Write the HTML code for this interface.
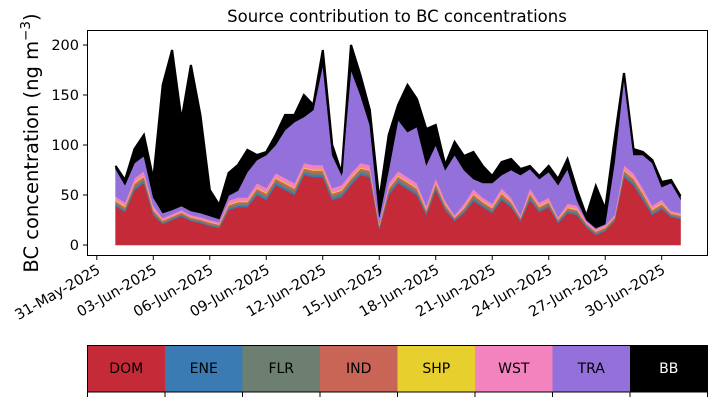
<!DOCTYPE html>
<html><head><meta charset="utf-8"><style>
body{margin:0;background:#fff}
svg{display:block;font-family:"DejaVu Sans","Liberation Sans",sans-serif}
</style></head><body>
<svg id="chart" width="717" height="402" viewBox="0 0 717 402">
<text x="397" y="22" text-anchor="middle" font-size="16.5">Source contribution to BC concentrations</text>
<g id="plot"></g>
<rect x="87.5" y="30.5" width="620" height="225" fill="none" stroke="#000" stroke-width="1"/>
<g id="yaxis"></g>
<g id="xaxis"></g>
<text transform="translate(38,143) rotate(-90)" text-anchor="middle" font-size="19.5">BC concentration (ng m<tspan dy="-8" font-size="13.5">−3</tspan><tspan dy="8">)</tspan></text>
<g id="legend"></g>
</svg>
<script>
const dom=[39,33,55,62,30,21,25,29,24,22,19,17,35,38,38,50,45,60,55,50,70,68,68,45,48,60,70,68,16,50,62,56,50,30,55,35,24,32,44,38,32,45,38,24,45,33,38,22,32,30,18,10,14,24,68,60,45,30,36,28,26];
const tra=[27.5,17.5,15,15,8,5,4,4,4,4,4,3,5,7,25.5,23,33,28,48,61,46,55,100,33,10,103,68,40,6,13,51,45,56,40.5,33,30.5,60,33.5,10,14.5,20.5,13,27.5,40,19,23.5,25.5,32,34.5,5.5,1,1,1,53,88,18,33,42.5,12.5,28,14];
const bb=[3,5,14,21,18.5,128,160,86,146,98,26,14,22.5,25.5,22,5,3,10,15,7,22,5,15,10,2,25,20,15,17,35,15,47,28,36,20,5,13,14,27,17,7,13,11,6,3,3,6,6,10,10,4,42,15,23,4,6,3,3,5,3,3];
const yTicks=[0,50,100,150,200];
const xTickLabels=["31-May-2025","03-Jun-2025","06-Jun-2025","09-Jun-2025","12-Jun-2025","15-Jun-2025","18-Jun-2025","21-Jun-2025","24-Jun-2025","27-Jun-2025","30-Jun-2025"];
const xTickDays=[0,3,6,9,12,15,18,21,24,27,30];
const legendNames=["DOM","ENE","FLR","IND","SHP","WST","TRA","BB"];
const colors=["#c42a38","#3a7bb3","#6d7f70","#c96556","#e7d02e","#f283bf","#9470da","#000000"];
const ene=dom.map(d=>d>=40?2:d>=30?1.5:1);
const flr=dom.map(d=>d>=40?2:d>=30?1.5:1);
const ind=dom.map(d=>d>=40?2.5:d>=30?2:1.5);
const shp=dom.map(d=>d>=40?1:d>=30?1:0.5);
const wst=dom.map(d=>d>=40?4.5:d>=30?3.5:2);

const NS="http://www.w3.org/2000/svg";
function xDay(d){return 96.8+d*18.83;}
function xIdx(i){return xDay(1+i*0.5);}
function yVal(v){return 245-v*1.0;}
const series=[dom,ene,flr,ind,shp,wst,tra,bb];
const plot=document.getElementById('plot');
let base=dom.map(()=>0);
series.forEach((s,k)=>{
  const top=s.map((v,i)=>base[i]+v);
  let d="M"+s.map((v,i)=>xIdx(i).toFixed(1)+","+yVal(top[i]).toFixed(1)).join("L");
  for(let i=s.length-1;i>=0;i--) d+="L"+xIdx(i).toFixed(1)+","+yVal(base[i]).toFixed(1);
  d+="Z";
  const p=document.createElementNS(NS,'path');
  p.setAttribute('d',d);p.setAttribute('fill',colors[k]);
  p.setAttribute('stroke',colors[k]);p.setAttribute('stroke-width','0.6');
  
  
  plot.appendChild(p);
  base=top;
});
const tl=document.createElementNS(NS,'polyline');
tl.setAttribute('points',base.map((v,i)=>xIdx(i).toFixed(1)+","+yVal(v).toFixed(1)).join(" "));
tl.setAttribute('fill','none');tl.setAttribute('stroke','#000');tl.setAttribute('stroke-width','2.2');


plot.appendChild(tl);

const ya=document.getElementById('yaxis');
yTicks.forEach(v=>{
  const y=yVal(v);
  const l=document.createElementNS(NS,'line');
  l.setAttribute('x1',83);l.setAttribute('x2',87.5);l.setAttribute('y1',y);l.setAttribute('y2',y);l.setAttribute('stroke','#000');
  
  
  ya.appendChild(l);
  const t=document.createElementNS(NS,'text');
  t.setAttribute('x',79);t.setAttribute('y',y+5);t.setAttribute('text-anchor','end');t.setAttribute('font-size','14.5');
  t.textContent=v;
  
  
  ya.appendChild(t);
});
const xa=document.getElementById('xaxis');
xTickDays.forEach((d,k)=>{
  const x=xDay(d);
  const l=document.createElementNS(NS,'line');
  l.setAttribute('x1',x);l.setAttribute('x2',x);l.setAttribute('y1',255.5);l.setAttribute('y2',260);l.setAttribute('stroke','#000');
  
  
  xa.appendChild(l);
  const t=document.createElementNS(NS,'text');
  t.setAttribute('transform','translate('+(x-1)+',263) rotate(-30)');
  t.setAttribute('x',0);t.setAttribute('y',11);
  t.setAttribute('text-anchor','end');t.setAttribute('font-size','14.5');
  t.textContent=xTickLabels[k];
  
  
  xa.appendChild(t);
});
const lg=document.getElementById('legend');
const cw=620/legendNames.length;
legendNames.forEach((n,k)=>{
  const x=87.5+k*cw;
  const r=document.createElementNS(NS,'rect');
  r.setAttribute('x',x);r.setAttribute('y',345.5);r.setAttribute('width',cw);r.setAttribute('height',46.5);r.setAttribute('fill',colors[k]);
  
  
  lg.appendChild(r);
  const t=document.createElementNS(NS,'text');
  t.setAttribute('x',x+cw/2);t.setAttribute('y',373);t.setAttribute('text-anchor','middle');t.setAttribute('font-size','14');
  t.setAttribute('fill',k===7?'#fff':'#000');
  t.textContent=n;
  
  
  lg.appendChild(t);
});
for(let k=0;k<=legendNames.length;k++){
  const x=87.5+k*cw;
  const l=document.createElementNS(NS,'line');
  l.setAttribute('x1',x);l.setAttribute('x2',x);l.setAttribute('y1',392);l.setAttribute('y2',397);l.setAttribute('stroke','#000');
  
  
  lg.appendChild(l);
}
const fr=document.createElementNS(NS,'rect');
fr.setAttribute('x',87.5);fr.setAttribute('y',345.5);fr.setAttribute('width',620);fr.setAttribute('height',46.5);
fr.setAttribute('fill','none');fr.setAttribute('stroke','#000');


lg.appendChild(fr);
</script>
</body></html>
